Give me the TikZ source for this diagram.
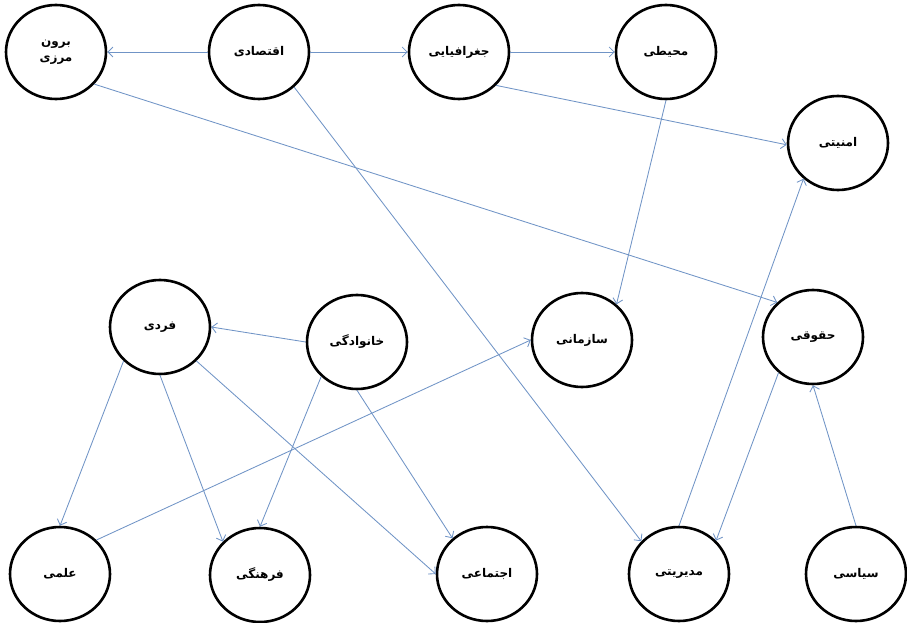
\documentclass[tikz,border=0pt]{standalone}
\usepackage{fontspec}
\usetikzlibrary{shapes.geometric, arrows.meta}
\TeXXeTstate=1
\newfontfamily\farsifont[Script=Arabic]{DejaVu Sans}
\newcommand{\fatxt}[1]{\beginR #1\endR}
\definecolor{linkblue}{RGB}{112,148,198}

\begin{document}
\begin{tikzpicture}
[concept/.style={ellipse, minimum width=100pt, minimum height=94pt, inner sep=0pt, line width=2.6pt, draw=black, fill=white, align=center, font=\farsifont\bfseries\fontsize{12}{16}\selectfont},
 link/.style={line width=0.85pt, draw=linkblue, -{Straight Barb[length=5pt, width=10pt]}}]
\useasboundingbox (0pt, 0pt) rectangle (907pt, -623pt);
\node (borun) [concept] at (56pt, -52pt) {\fatxt{برون}\\\fatxt{مرزی}};
\node (eco) [concept] at (259pt, -52pt) {\fatxt{اقتصادی}};
\node (geo) [concept] at (459pt, -52pt) {\fatxt{جغرافیایی}};
\node (moh) [concept] at (666pt, -52pt) {\fatxt{محیطی}};
\node (amn) [concept] at (838pt, -143pt) {\fatxt{امنیتی}};
\node (fardi) [concept] at (160pt, -327pt) {\fatxt{فردی}};
\node (khan) [concept] at (357pt, -342pt) {\fatxt{خانوادگی}};
\node (saz) [concept] at (582pt, -340pt) {\fatxt{سازمانی}};
\node (hoq) [concept] at (813pt, -337pt) {\fatxt{حقوقی}};
\node (elmi) [concept] at (60pt, -574pt) {\fatxt{علمی}};
\node (farh) [concept] at (260pt, -575pt) {\fatxt{فرهنگی}};
\node (ejt) [concept] at (487pt, -574pt) {\fatxt{اجتماعی}};
\node (mod) [concept] at (679pt, -574pt) {\fatxt{مدیریتی}};
\node (sisi) [concept] at (856pt, -574pt) {\fatxt{سیاسی}};
\draw [link] (eco) to (borun);
\draw [link] (eco) to (geo);
\draw [link] (geo) to (moh);
\draw [link] (geo.318) to (amn.182);
\draw [link] (moh.south) to (saz.46);
\draw [link] (borun.320) to (hoq.136);
\draw [link] (eco.315) to (mod.139);
\draw [link] (khan.west) to (fardi.east);
\draw [link] (fardi.223) to (elmi.north);
\draw [link] (fardi.south) to (farh.138);
\draw [link] (fardi.317) to (ejt.west);
\draw [link] (khan.224) to (farh.north);
\draw [link] (khan.south) to (ejt.134);
\draw [link] (elmi.43) to (saz.west);
\draw [link] (mod.north) to (amn.226);
\draw [link] (hoq.226) to (mod.42);
\draw [link] (sisi.north) to (hoq.south);
\end{tikzpicture}
\end{document}
